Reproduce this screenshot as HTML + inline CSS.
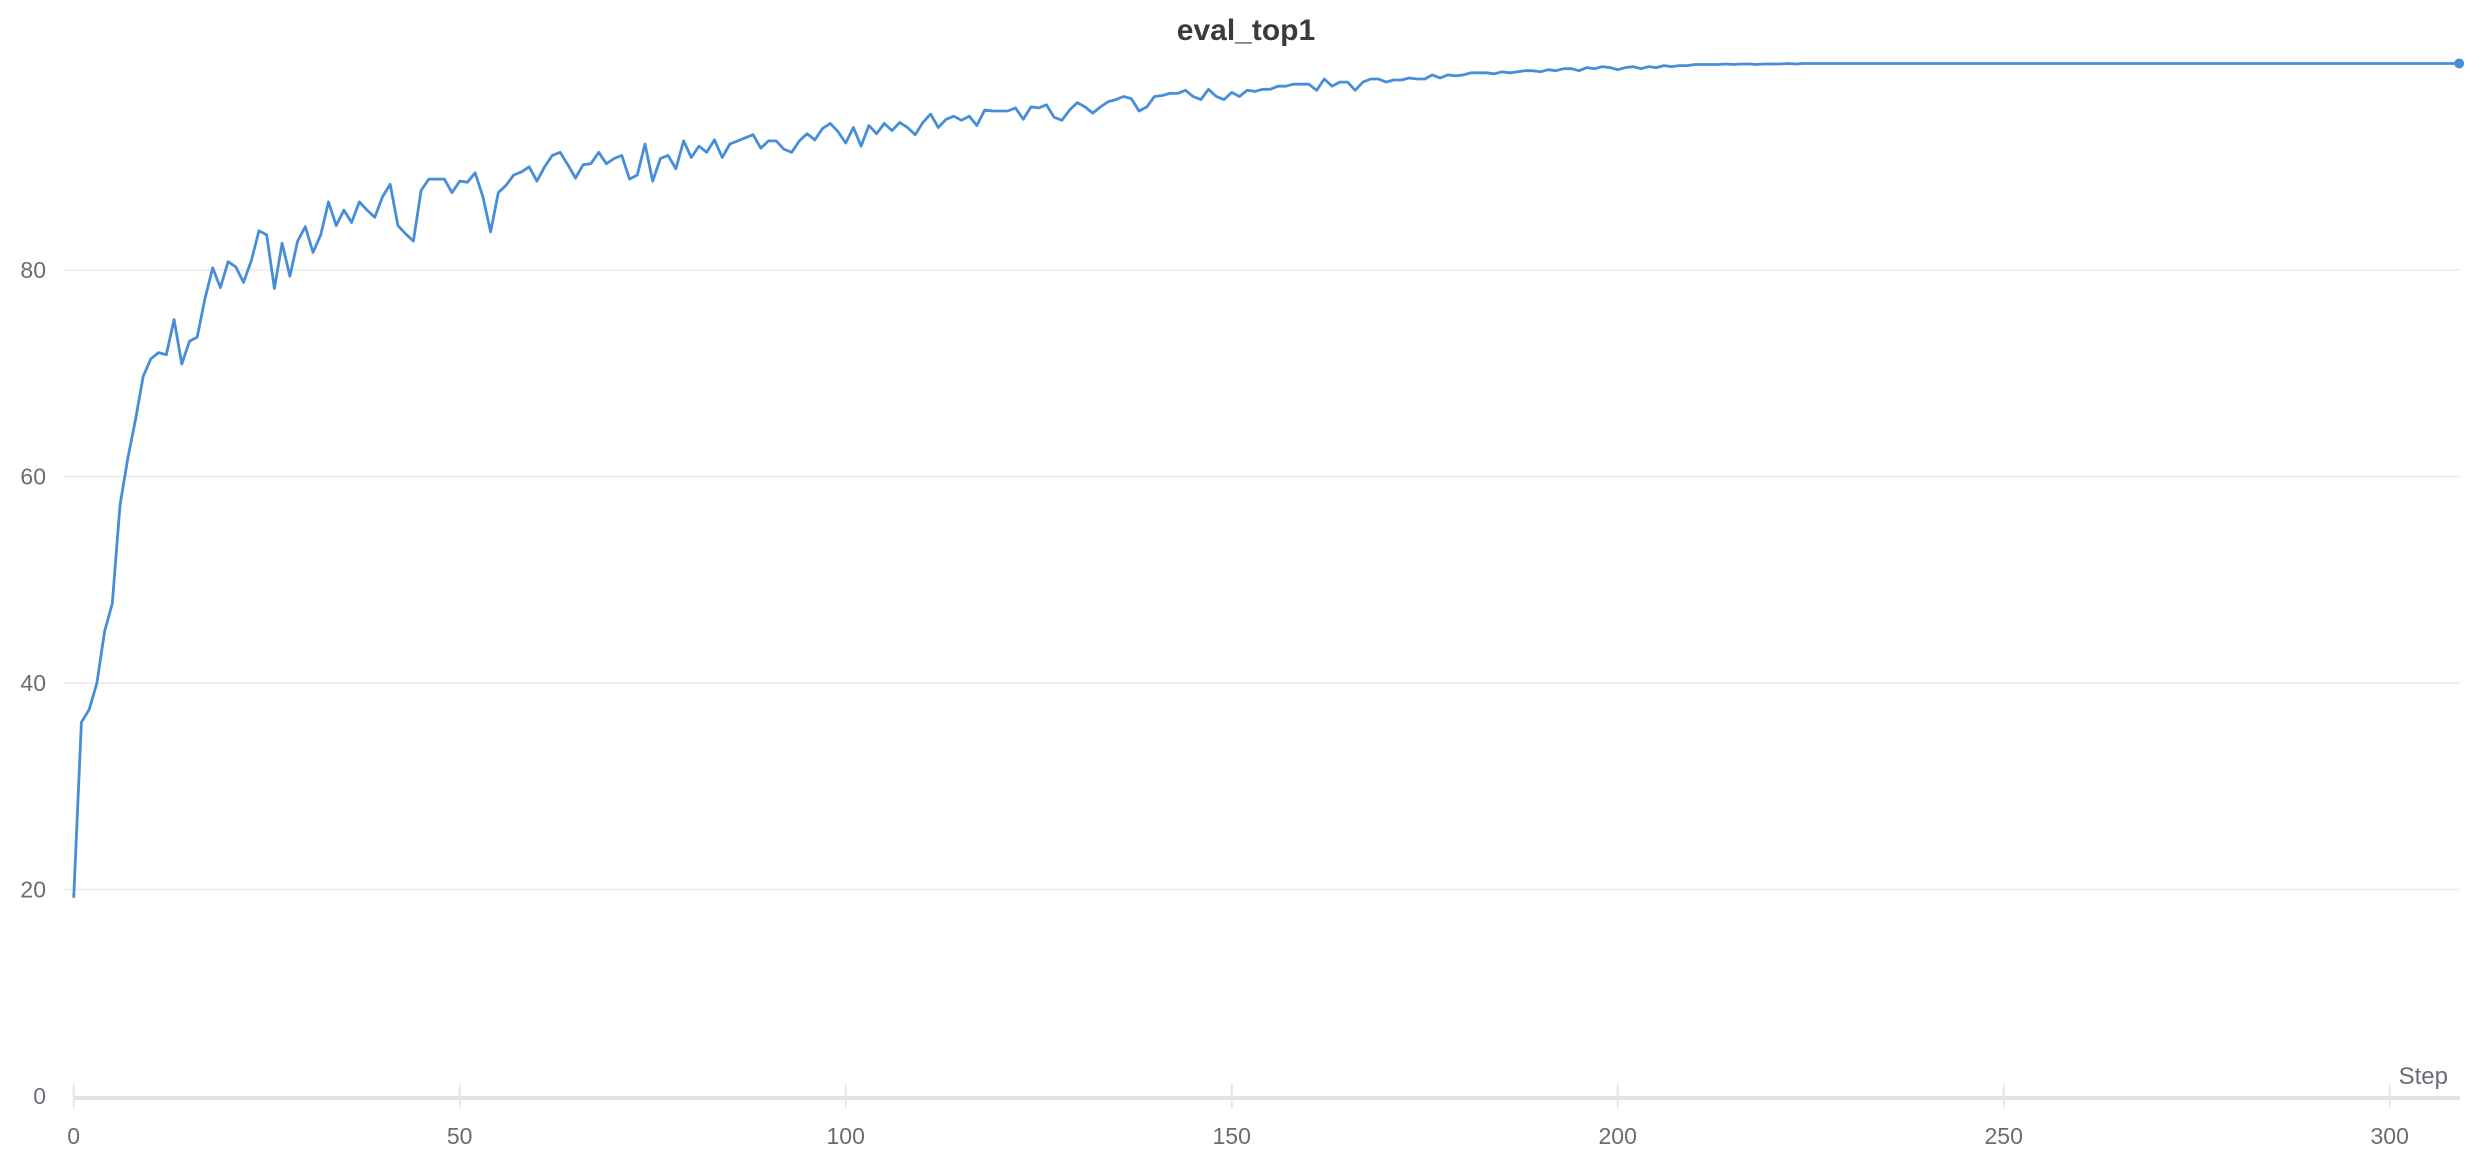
<!DOCTYPE html>
<html><head><meta charset="utf-8"><style>
html,body{margin:0;padding:0;background:#fff;}
svg{display:block;font-family:"Liberation Sans",sans-serif;}
</style></head><body>
<svg id="chart" width="2490" height="1154" viewBox="0 0 2490 1154" xmlns="http://www.w3.org/2000/svg">
<text x="1246" y="40" text-anchor="middle" font-size="30" font-weight="bold" fill="#3a3a40">eval_top1</text>
<g id="grid"></g><g id="axes"></g><g id="series"></g>
<text x="2448" y="1084" text-anchor="end" font-size="24" fill="#6b6b76">Step</text>
</svg>
<script>
const yTicks=[0,20,40,60,80];
const xTicks=[0,50,100,150,200,250,300];
const values=[19.2,36.2,37.4,40,45,47.7,57.2,61.7,65.5,69.7,71.4,72,71.8,75.2,70.9,73.1,73.5,77.2,80.2,78.3,
80.8,80.3,78.8,80.9,83.8,83.4,78.2,82.6,79.4,82.8,84.2,81.7,83.4,86.6,84.3,85.8,84.6,86.6,85.8,85.1,
87.1,88.3,84.3,83.5,82.8,87.7,88.8,88.8,88.8,87.5,88.6,88.5,89.4,87.1,83.7,87.5,88.2,89.2,89.5,90,
88.6,90,91.1,91.4,90.2,88.9,90.2,90.3,91.4,90.3,90.8,91.1,88.8,89.2,92.2,88.6,90.8,91.1,89.8,92.5,
90.9,92,91.4,92.6,90.9,92.2,92.5,92.8,93.1,91.8,92.5,92.5,91.7,91.4,92.5,93.2,92.6,93.7,94.2,93.4,
92.3,93.8,92,94,93.2,94.2,93.5,94.3,93.8,93.1,94.3,95.1,93.8,94.6,94.9,94.5,94.9,94,95.5,95.4,
95.4,95.4,95.7,94.6,95.8,95.7,96,94.8,94.5,95.5,96.2,95.8,95.2,95.8,96.3,96.5,96.8,96.6,95.4,95.8,
96.8,96.9,97.1,97.1,97.4,96.8,96.5,97.5,96.8,96.5,97.2,96.8,97.4,97.3,97.5,97.5,97.8,97.8,98,98,
98,97.4,98.5,97.8,98.2,98.2,97.4,98.2,98.5,98.5,98.2,98.4,98.4,98.6,98.5,98.5,98.9,98.6,98.9,98.8,
98.9,99.1,99.1,99.1,99,99.2,99.1,99.2,99.3,99.3,99.2,99.4,99.3,99.5,99.5,99.3,99.6,99.5,99.7,99.6,
99.4,99.6,99.7,99.5,99.7,99.6,99.8,99.7,99.8,99.8,99.9,99.9,99.9,99.9,99.95,99.9,99.95,99.95,99.9,99.95,
99.95,99.95,100,99.95,100,100,100,100,100,100,100,100,100,100,100,100,100,100,100,100,
100,100,100,100,100,100,100,100,100,100,100,100,100,100,100,100,100,100,100,100,
100,100,100,100,100,100,100,100,100,100,100,100,100,100,100,100,100,100,100,100,
100,100,100,100,100,100,100,100,100,100,100,100,100,100,100,100,100,100,100,100,
100,100,100,100,100,100,100,100,100,100];
const NS='http://www.w3.org/2000/svg';
const X0=73.7, XS=7.72, Y0=1096, YS=10.325;
function xs(s){return X0+s*XS;}
function ys(v){return Y0-v*YS;}
function mk(tag,attrs,parent){const e=document.createElementNS(NS,tag);for(const k in attrs)e.setAttribute(k,attrs[k]);parent.appendChild(e);return e;}
const grid=document.getElementById('grid'),axes=document.getElementById('axes'),series=document.getElementById('series');
yTicks.forEach(t=>{
  if(t>0){const g=mk('line',{x1:64,x2:2460,y1:ys(t),y2:ys(t),stroke:'#ececec','stroke-width':1.5},grid);
  
  }
  const l=mk('text',{x:46,y:ys(t)+8,'text-anchor':'end','font-size':23,fill:'#6b6b76'},axes);
  l.textContent=t;
  
  
});
const ax=mk('line',{x1:73,x2:2460,y1:1098,y2:1098,stroke:'#e3e3e3','stroke-width':4},axes);


xTicks.forEach(t=>{
  const tk=mk('line',{x1:xs(t),x2:xs(t),y1:1084,y2:1108,stroke:'#e6e6e6','stroke-width':2},axes);
  
  
  const l=mk('text',{x:xs(t),y:1144,'text-anchor':'middle','font-size':23,fill:'#6b6b76'},axes);
  l.textContent=t;
  
  
});
const pts=values.map((v,i)=>xs(i).toFixed(1)+','+ys(v).toFixed(1)).join(' ');
const line=mk('polyline',{points:pts,fill:'none',stroke:'#478ed9','stroke-width':2.8,'stroke-linejoin':'round'},series);


const last=values.length-1;
const dot=mk('circle',{cx:xs(last),cy:ys(values[last]),r:5,fill:'#478ed9'},series);


</script>
</body></html>
